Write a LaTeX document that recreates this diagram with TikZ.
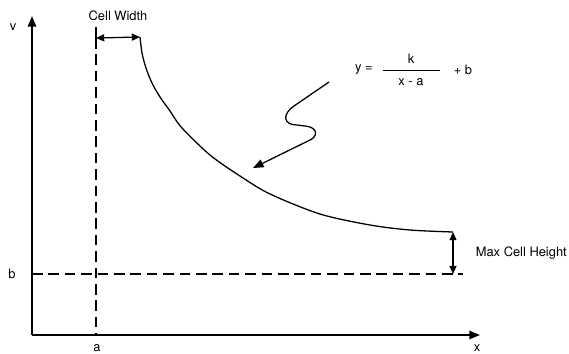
\documentclass[tikz,border=0pt]{standalone}
\usepackage{fontspec}
\setmainfont{TeX Gyre Heros}
\usetikzlibrary{arrows.meta}
\tikzset{
  lbl/.style={font=\fontsize{11}{13}\selectfont, inner sep=1pt},
  axisarrow/.style={-{Triangle[length=9pt,width=7pt]}, line width=1.6pt},
  dimarrow/.style={{Triangle[length=7pt,width=6pt]}-{Triangle[length=7pt,width=6pt]}},
  guide/.style={dash pattern=on 9pt off 5pt}
}
\begin{document}
\begin{tikzpicture}[x=0.03cm,y=-0.03cm,line width=1.1pt]
      \useasboundingbox (0,0) rectangle (569,353);
      % Axes
      \coordinate (O) at (32,335);
      \coordinate (ytop) at (32,16);
      \coordinate (xend) at (480,335);
      \draw[axisarrow] (O) -- (ytop);
      \draw[axisarrow] (O) -- (xend);
      \node[lbl] (vlab) at (13,27) {v};
      \node[lbl] (xlab) at (477,348) {x};
      \node[lbl] (alab) at (97,348) {a};
      \node[lbl] (blab) at (12,274) {b};

      % Asymptotes
      \coordinate (atop) at (96,27);
      \coordinate (abot) at (96,335);
      \coordinate (bleft) at (32,274);
      \coordinate (bright) at (463,274);
      \draw[guide] (96,38) -- (abot);
      \draw (atop) -- (96,38);
      \draw[guide] (bleft) -- (bright);

      % Curve
      \coordinate (ctop) at (140,37);
      \coordinate (cend) at (453,232);
      \draw plot[smooth] coordinates {(ctop) (142,53) (146,68) (152,83) (160,97)
        (170,111) (182,128) (210,155) (240,176) (270,194) (320,214) (370,225)
        (410,230) (cend)};

      % Cell width and max cell height
      \draw[dimarrow] (96,38) -- (ctop);
      \node[lbl] (cw) at (118,16) {Cell Width};
      \draw[dimarrow] (cend) -- (453,274);
      \node[lbl, anchor=west] (mch) at (474,253) {Max Cell Height};

      % Formula
      \node[lbl] (eqy) at (364,70) {y =};
      \node[lbl] (eqk) at (411,59) {k};
      \node[lbl] (eqden) at (411,82) {x - a};
      \node[lbl] (eqb) at (463,70) {+ b};
      \draw[line width=0.7pt] (383,70) -- (440,70);

      % Pointer
      \coordinate (pstart) at (329,82);
      \coordinate (ptip) at (253,168);
      \draw[-{Triangle[length=9pt,width=7pt]}] (pstart) -- (294,106)
        .. controls (282,114) and (283,125) .. (297,125) -- (305,126)
        .. controls (318,127) and (319,137) .. (308,141) -- (ptip);
    \end{tikzpicture}
\end{document}
